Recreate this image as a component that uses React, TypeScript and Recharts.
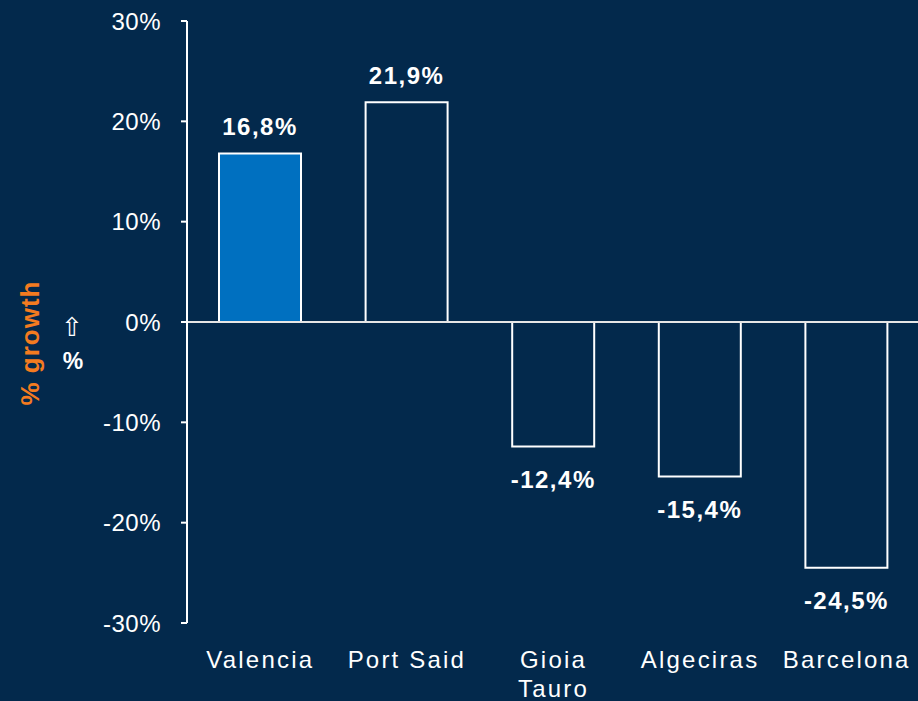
import React from "react";
import { BarChart, Bar, XAxis, YAxis, ReferenceLine, Cell, LabelList } from "recharts";

const ports = ["Valencia", "Port Said", "Gioia Tauro", "Algeciras", "Barcelona"];
const growth = [16.8, 21.9, -12.4, -15.4, -24.5];
const yTicks = [-30, -20, -10, 0, 10, 20, 30];
const highlightPort = "Valencia";

const data = ports.map((p, i) => ({ port: p, growth: growth[i] }));

const BG = "#03294c";
const FONT = "'Liberation Sans', Arial, sans-serif";

const fmt = (v: number) => `${v.toFixed(1).replace(".", ",")}%`;

const XTick = (props: any) => {
  const { x, y, payload } = props;
  const text: string = payload.value;
  const lines = text.length > 10 ? text.split(" ") : [text];
  return (
    <g>
      {lines.map((l, i) => (
        <text
          key={i}
          x={x}
          y={y + 37 + i * 29}
          textAnchor="middle"
          fill="#ffffff"
          fontSize={24}
          fontFamily={FONT}
          letterSpacing={2.2}
        >
          {l}
        </text>
      ))}
    </g>
  );
};

const BarLabel = (props: any) => {
  const { x, y, width, height, value } = props;
  const top = Math.min(y, y + height);
  const bottom = Math.max(y, y + height);
  const cy = value >= 0 ? top - 27 : bottom + 33;
  return (
    <text
      x={x + width / 2}
      y={cy}
      textAnchor="middle"
      dominantBaseline="central"
      fill="#ffffff"
      fontWeight="bold"
      fontSize={24}
      fontFamily={FONT}
      letterSpacing={1.5}
    >
      {fmt(value)}
    </text>
  );
};

const SideLabel = (props: any) => {
  return (
    <g>
      <text
        x={0}
        y={0}
        transform="translate(39,343) rotate(-90)"
        textAnchor="middle"
        fill="#f47b20"
        fontWeight="bold"
        fontSize={26}
        fontFamily={FONT}
        letterSpacing={1}
      >
        % growth
      </text>
      <text x={72} y={336} textAnchor="middle" fill="#ffffff" fontSize={26} fontFamily="'DejaVu Sans', sans-serif">
        ⇧
      </text>
      <text x={73} y={369} textAnchor="middle" fill="#ffffff" fontWeight="bold" fontSize={23} fontFamily={FONT}>
        %
      </text>
    </g>
  );
};

export default function App() {
  return (
    <div style={{ position: "absolute", left: 0, top: 0, width: 918, height: 701, background: BG }}>
      <BarChart width={918} height={701} data={data} margin={{ top: 21, right: -2, left: 0, bottom: 0 }}>
        <XAxis
          dataKey="port"
          axisLine={false}
          tickLine={false}
          height={78}
          tick={<XTick />}
          interval={0}
        />
        <YAxis
          width={187}
          domain={[-30, 30]}
          ticks={yTicks}
          tickFormatter={(v: number) => `${v}%`}
          axisLine={{ stroke: "#ffffff", strokeWidth: 2 }}
          tickLine={{ stroke: "#ffffff", strokeWidth: 2 }}
          tickSize={6}
          tickMargin={20}
          tick={{ fill: "#ffffff", fontSize: 24, fontFamily: FONT, letterSpacing: 0.5 }}
          label={{ content: <SideLabel /> }}
        />
        <Bar dataKey="growth" barSize={82} stroke="#ffffff" strokeWidth={2} isAnimationActive={false}>
          {data.map((d, i) => (
            <Cell key={i} fill={d.port === highlightPort ? "#0070c0" : BG} />
          ))}
          <LabelList dataKey="growth" content={<BarLabel />} />
        </Bar>
        <ReferenceLine y={0} stroke="#e6e6e6" strokeWidth={2} />
      </BarChart>
    </div>
  );
}
